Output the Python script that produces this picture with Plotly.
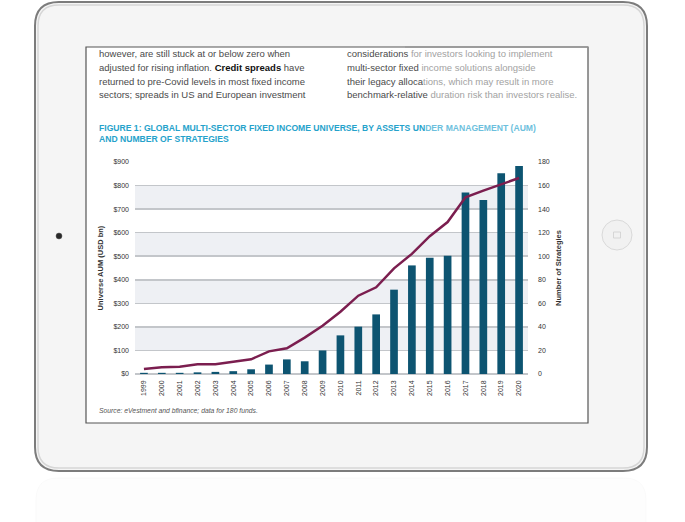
import plotly.graph_objects as go

# ---------------- data ----------------
years = [str(y) for y in range(1999, 2021)]
aum_usd_bn = [5, 5, 5, 7, 9, 12, 20, 40, 62, 54, 100, 164, 201, 253, 358, 461, 494, 502, 771, 739, 852, 883]
num_strategies = [4.2, 5.7, 6.2, 8.2, 8.2, 10.2, 12.5, 19.2, 21.8, 30.9, 41, 52.9, 66.5, 73.6, 89.7, 102, 117, 129, 150, 155.7, 161, 166.4]
aum_ticks = list(range(0, 1000, 100))
strat_ticks = list(range(0, 200, 20))

# ---------------- geometry helpers (decoration only) ----------------
W_FIG, H_FIG = 685, 522
L, R, T, B = 135, 528, 162, 374
PW, PH = R - L, B - T

def px(x):
    return (x - L) / PW

def py(y):
    return (B - y) / PH

def pt(x, y):
    return f"{px(x):.5f},{py(y):.5f}"

def rrect(x0, y0, x1, y1, r):
    return (f"M {pt(x0 + r, y0)} L {pt(x1 - r, y0)} Q {pt(x1, y0)} {pt(x1, y0 + r)} "
            f"L {pt(x1, y1 - r)} Q {pt(x1, y1)} {pt(x1 - r, y1)} "
            f"L {pt(x0 + r, y1)} Q {pt(x0, y1)} {pt(x0, y1 - r)} "
            f"L {pt(x0, y0 + r)} Q {pt(x0, y0)} {pt(x0 + r, y0)} Z")

FONT = "Liberation Sans, Arial, sans-serif"
DARK = "#4a4a4a"
LIGHT = "#a2a2a2"

fig = go.Figure()
fig.add_trace(go.Bar(x=years, y=aum_usd_bn, marker=dict(color="#0d5471", line=dict(width=0)),
                     yaxis="y", showlegend=False, hoverinfo="skip"))
fig.add_trace(go.Scatter(x=years, y=num_strategies, mode="lines", yaxis="y2",
                         line=dict(color="#7b1e4f", width=2.5), showlegend=False, hoverinfo="skip"))

shapes = []
# faint reflection below tablet
shapes.append(dict(type="path", xref="paper", yref="paper", layer="below",
                   path=rrect(36, 478, 646, 560, 22), fillcolor="rgba(0,0,0,0.008)",
                   line=dict(color="rgba(0,0,0,0.022)", width=1)))
# tablet frame
shapes.append(dict(type="path", xref="paper", yref="paper", layer="below",
                   path=rrect(35, 2, 647, 471, 24), fillcolor="#f5f5f5",
                   line=dict(color="#7c7c7c", width=2)))
shapes.append(dict(type="path", xref="paper", yref="paper", layer="below",
                   path=rrect(38, 5, 644, 468, 21), fillcolor="rgba(0,0,0,0)",
                   line=dict(color="#d6d6d6", width=1.5)))
# screen
shapes.append(dict(type="rect", xref="paper", yref="paper", layer="below",
                   x0=px(86), x1=px(588), y0=py(423), y1=py(47), fillcolor="white",
                   line=dict(color="#555555", width=1.2)))
shapes.append(dict(type="line", xref="paper", yref="paper", layer="below",
                   x0=px(405), x1=px(588), y0=py(47), y1=py(47),
                   line=dict(color="#9a9a9a", width=1.4)))
# camera
shapes.append(dict(type="circle", xref="paper", yref="paper", layer="below",
                   x0=px(56), x1=px(62), y0=py(239), y1=py(233), fillcolor="#2a2a2a",
                   line=dict(color="#555", width=0.5)))
# home button
shapes.append(dict(type="circle", xref="paper", yref="paper", layer="below",
                   x0=px(602), x1=px(632), y0=py(250), y1=py(220), fillcolor="#f1f1f1",
                   line=dict(color="#d9d9d9", width=1)))
shapes.append(dict(type="rect", xref="paper", yref="paper", layer="below",
                   x0=px(613.5), x1=px(620.5), y0=py(238), y1=py(232), fillcolor="rgba(0,0,0,0)",
                   line=dict(color="#cfcfcf", width=0.8)))
# alternating bands
for lo in (100, 300, 500, 700):
    shapes.append(dict(type="rect", xref="paper", yref="y", layer="below",
                       x0=0, x1=1, y0=lo, y1=lo + 100, fillcolor="#eef0f4", line=dict(width=0)))

annotations = []

def txt(x, y, s, size, color=DARK, **kw):
    annotations.append(dict(x=px(x), y=py(y), xref="paper", yref="paper", text=s, showarrow=False,
                            xanchor="left", yanchor="middle", align="left",
                            font=dict(family=FONT, size=size, color=color), **kw))

left_lines = [
    "however, are still stuck at or below zero when",
    "adjusted for rising inflation. <b><span style='color:#111'>Credit spreads</span></b> have",
    "returned to pre-Covid levels in most fixed income",
    "sectors; spreads in US and European investment",
]
right_lines = [
    ("considerations", " for investors looking to implement"),
    ("multi-sector fixed", " income solutions alongside"),
    ("their legacy alloca", "tions, which may result in more"),
    ("benchmark-relative", " duration risk than investors realise."),
]
ys = [54, 67.5, 81, 94]
for y, s in zip(ys, left_lines):
    txt(97, y, s, 9.5)
for y, (a, b) in zip(ys, right_lines):
    txt(345, y, f"{a}<span style='color:{LIGHT}'>{b}</span>", 9.5)

txt(97, 127.5, "<b>FIGURE 1: GLOBAL MULTI-SECTOR FIXED INCOME UNIVERSE, BY ASSETS UN"
               "<span style='color:#6dbfdd'>DER MANAGEMENT (AUM)</span></b>", 8.6, color="#25a2cb")
txt(97, 138.5, "<b>AND NUMBER OF STRATEGIES</b>", 8.6, color="#25a2cb")
txt(97, 410, "<i>Source: eVestment and bfinance; data for 180 funds.</i>", 6.8, color="#555555")

fig.update_layout(
    width=W_FIG, height=H_FIG,
    margin=dict(l=L, r=W_FIG - R, t=T, b=H_FIG - B, pad=0, autoexpand=False),
    paper_bgcolor="white", plot_bgcolor="rgba(0,0,0,0)",
    bargap=0.57,
    shapes=shapes, annotations=annotations,
    font=dict(family=FONT, color="#333333"),
    xaxis=dict(type="category", tickangle=-90, tickfont=dict(size=7, color="#333"),
               showgrid=False, zeroline=False, showline=False, ticks="", ticklabelstandoff=4),
    yaxis=dict(range=[0, 900], tickvals=aum_ticks, ticktext=[f"${v}" for v in aum_ticks],
               showgrid=True, gridcolor="#c3c6ca", gridwidth=1.5,
               zeroline=True, zerolinecolor="#c3c6ca", zerolinewidth=1.5,
               showline=False, ticks="", tickfont=dict(size=7, color="#333"), ticklabelstandoff=5,
               title=dict(text="<b>Universe AUM (USD bn)</b>", font=dict(size=7.5, color="#333"), standoff=8)),
    yaxis2=dict(range=[0, 180], tickvals=strat_ticks, overlaying="y", side="right",
                showgrid=False, zeroline=False, showline=False, ticks="",
                tickfont=dict(size=7, color="#333"), ticklabelstandoff=9,
                title=dict(text="<b>Number of Strategies</b>", font=dict(size=7.5, color="#333"), standoff=6)),
)

fig.write_html("out.html", config={"displayModeBar": False, "staticPlot": True},
               post_script="document.body.style.margin='0';document.body.style.padding='0';")
